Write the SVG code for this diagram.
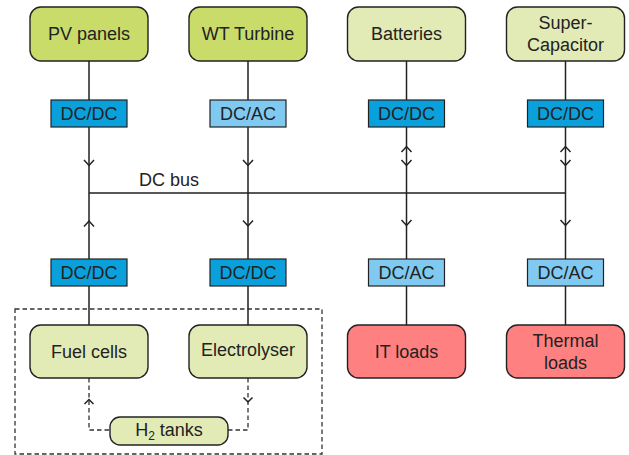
<svg xmlns="http://www.w3.org/2000/svg" width="629" height="455" viewBox="0 0 629 455">
<style>
text{font-family:"Liberation Sans",Arial,sans-serif;font-size:18px;fill:#222;text-anchor:middle}
.big{stroke:#222;stroke-width:1.4}
.g1{fill:#c9dc6a}.g2{fill:#e2ebb5}.red{fill:#ff8080}
.cv{stroke:#222;stroke-width:1.2}
.dcdc{fill:#0aa0dc}.dcac{fill:#80c9f0}
.ln{stroke:#222;stroke-width:1.5;fill:none}
.ah{stroke:#222;stroke-width:1.5;fill:none}
.dash{stroke:#333;stroke-width:1.3;fill:none;stroke-dasharray:4.5 3}
</style>
<rect id="h2box" class="dash" x="15" y="309" width="307" height="145"/>
<g id="connectors">
<path class="ln" d="M89 61V100M89 127V193M248 61V100M248 127V193M406.5 61V100M406.5 127V259M565.5 61V100M565.5 127V259M89 193H565.5M89 193V259M89 286V325M248 193V259M248 286V325M406.5 286V325M565.5 286V325"/>
<path class="ah" d="M84 160L89 165.5L94 160M243 160L248 165.5L253 160M401.5 152L406.5 146.5L411.5 152M401.5 160L406.5 165.5L411.5 160M560.5 152L565.5 146.5L570.5 152M560.5 160L565.5 165.5L570.5 160M84 226.5L89 221L94 226.5M243 220.5L248 226L253 220.5M401.5 220L406.5 225.5L411.5 220M560.5 220L565.5 225.5L570.5 220"/>
<path class="dash" d="M89 378V430H110M248 378V430H228"/>
<path class="ah" d="M84.5 404L89 399.5L93.5 404M243.5 397.5L248 402L252.5 397.5" stroke-width="1.3"/>
</g>
<g id="pv"><rect class="big g1" x="30" y="7" width="118" height="54" rx="11"/><text x="89" y="40.3">PV panels</text></g>
<g id="wt"><rect class="big g1" x="189" y="7" width="118" height="54" rx="11"/><text x="248" y="40.3">WT Turbine</text></g>
<g id="batteries"><rect class="big g2" x="347.5" y="7" width="118" height="54" rx="11"/><text x="406.5" y="40.3">Batteries</text></g>
<g id="supercap"><rect class="big g2" x="506.5" y="7" width="118" height="54" rx="11"/><text x="565.5" y="28.5">Super-</text><text x="565.5" y="50.5">Capacitor</text></g>
<g id="conv1"><rect class="cv dcdc" x="51" y="100" width="76" height="27"/><text x="89" y="120">DC/DC</text></g>
<g id="conv2"><rect class="cv dcac" x="210" y="100" width="76" height="27"/><text x="248" y="120">DC/AC</text></g>
<g id="conv3"><rect class="cv dcdc" x="368.5" y="100" width="76" height="27"/><text x="406.5" y="120">DC/DC</text></g>
<g id="conv4"><rect class="cv dcdc" x="527.5" y="100" width="76" height="27"/><text x="565.5" y="120">DC/DC</text></g>
<g id="dcbus"><text x="169" y="186">DC bus</text></g>
<g id="conv5"><rect class="cv dcdc" x="51" y="259" width="76" height="27"/><text x="89" y="279">DC/DC</text></g>
<g id="conv6"><rect class="cv dcdc" x="210" y="259" width="76" height="27"/><text x="248" y="279">DC/DC</text></g>
<g id="conv7"><rect class="cv dcac" x="368.5" y="259" width="76" height="27"/><text x="406.5" y="279">DC/AC</text></g>
<g id="conv8"><rect class="cv dcac" x="527.5" y="259" width="76" height="27"/><text x="565.5" y="279">DC/AC</text></g>
<g id="fuelcells"><rect class="big g2" x="30" y="325" width="118" height="53" rx="11"/><text x="89" y="358">Fuel cells</text></g>
<g id="electrolyser"><rect class="big g2" x="189" y="325" width="118" height="53" rx="11"/><text x="248" y="356">Electrolyser</text></g>
<g id="itloads"><rect class="big red" x="347.5" y="325" width="118" height="53" rx="11"/><text x="406.5" y="358">IT loads</text></g>
<g id="thermal"><rect class="big red" x="506.5" y="325" width="118" height="53" rx="11"/><text x="565.5" y="347">Thermal</text><text x="565.5" y="369">loads</text></g>
<g id="h2tanks"><rect class="big g2" x="110" y="417" width="118" height="28" rx="10"/><text x="169" y="436">H<tspan font-size="12" dy="4">2</tspan><tspan dy="-4"> tanks</tspan></text></g>
</svg>
